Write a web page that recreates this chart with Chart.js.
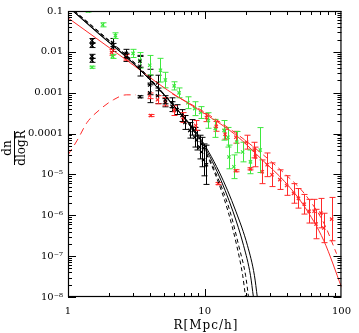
<!DOCTYPE html>
<html><head><meta charset="utf-8">
<script src="https://cdn.jsdelivr.net/npm/chart.js@4.4.0/dist/chart.umd.min.js"></script>
<style>html,body{margin:0;padding:0;background:#fff;}canvas{display:block;}</style>
</head><body>
<canvas id="c" width="359" height="333"></canvas>
<script>
// ---- axis ticks ----
const xTickValues = [1, 10, 100];
const xTickLabels = ['1', '10', '100'];
const yTickValues = [1e-8, 1e-7, 1e-6, 1e-5, 1e-4, 1e-3, 1e-2, 1e-1];
const yTickLabels = ['10⁻⁸', '10⁻⁷', '10⁻⁶', '10⁻⁵', '0.0001', '0.001', '0.01', '0.1'];
const xTitle = 'R[Mpc/h]';
const yTitleNum = 'dn';
const yTitleDen = 'dlogR';

// ---- black measurements ----
const blackX = [1.497,1.497,1.497,1.497,2.117,2.117,2.666,2.666,3.358,3.358,3.358,3.959,3.959,3.959,4.517,4.517,5.152,5.152,5.782,5.782,6.281,6.818,7.163,7.779,8.039,8.447,8.730,9.173,9.478,9.797,10.29];
const blackY = [0.0189,0.0143,0.00776,0.00621,0.0169,0.0128,0.00916,0.00734,0.00587,0.00445,0.000794,0.00242,0.00155,0.000993,0.00173,0.00084,0.000673,0.000569,0.000569,0.000456,0.000386,0.000276,0.000187,0.000120,0.000142,8.13e-5,6.89e-5,4.67e-5,3.53e-5,2.27e-5,1.72e-5];
const blackErrDex = [0.05,0.05,0.05,0.05,0.1,0.1,0.1,0.1,0.145,0.24,0.025,0.19,0.24,0.24,0.19,0.19,0.1,0.1,0.12,0.12,0.12,0.145,0.17,0.19,0.19,0.24,0.24,0.29,0.36,0.39,0.48];

// ---- green measurements ----
const greenX = [1.402,1.497,1.795,2.117,2.223,2.991,3.358,3.959,4.746,5.152,5.976,6.491,7.526,8.447,9.324,10.64,11.94,13.85,14.79,17.15,18.94,15.04,16.33,21.6,25.47];
const greenY = [0.1,0.00421,0.0459,0.00776,0.0249,0.00916,0.00621,0.0047,0.00356,0.00204,0.00147,0.000993,0.000569,0.000407,0.000327,0.000209,0.000134,0.000120,8.13e-5,6.16e-5,3.53e-5,2.68e-5,1.54e-5,2.03e-5,3.95e-5];
const greenErrDex = [0.025,0.025,0.05,0.05,0.07,0.1,0.19,0.24,0.29,0.19,0.1,0.12,0.145,0.17,0.145,0.19,0.22,0.24,0.24,0.26,0.24,0.29,0.29,0.29,0.55];

// ---- red measurements ----
const redX = [2.082,2.666,3.959,4.025,4.517,5.152,5.976,6.932,8.587,10.29,12.14,14.08,16.88,20.23,23.08,12.54,16.88,21.6,23.46,26.33,28.59,31.05,35.42,39.74,44.61,48.44,53.47,58.05,63.04,70.75,65.16,74.31,84.8];
const redY = [0.00969,0.00734,0.00084,0.000276,0.000673,0.000601,0.000365,0.000247,0.000158,0.000247,0.00015,9.62e-5,8.13e-5,6.16e-5,3.95e-5,5.97e-6,1.23e-5,1.37e-5,2.68e-5,1.16e-5,1.72e-5,9.84e-6,7.46e-6,5.35e-6,3.43e-6,2.6e-6,1.86e-6,1.26e-6,1.26e-6,1.13e-6,6.11e-7,4.9e-7,8.07e-7];
const redErrDex = [0.07,0.07,0.07,0.025,0.1,0.1,0.12,0.12,0.12,0.1,0.12,0.12,0.145,0.17,0.19,0.025,0.025,0.025,0.24,0.29,0.29,0.29,0.24,0.24,0.24,0.24,0.24,0.29,0.29,0.36,0.36,0.36,0.53];

// ---- black model curves (common y, four x tracks) ----
const blackModelY = [0.13,0.0294,0.0047,4.7e-4,8.9e-5,1.16e-5,1.26e-6,1.8e-7,3.4e-8,1.0e-8];
const blackDash1X = [1.02,1.72,3.20,5.98,8.70,11.74,14.79,17.15,18.94,19.89];
const blackDash2X = [1.01,1.70,3.18,5.98,8.75,11.94,15.29,17.73,19.89,20.90];
const blackSolid1X = [1.0,1.66,3.12,5.98,8.88,12.34,16.06,19.25,21.60,22.70];
const blackSolid2X = [0.99,1.64,3.10,5.98,9.02,12.75,16.88,20.56,23.08,24.24];

// ---- red model curves ----
const redSolidX = [1.0,2.755,5.325,9.96,16.88,26.33,38.46,53.47,74.31,100];
const redSolidY = [0.0678,0.00587,0.00117,3.1e-4,9.2e-5,2.27e-5,6.67e-6,1.66e-6,2.38e-7,1.75e-8];
const redDashX = [5.78,9.96,16.88,26.33,38.46,53.47,74.31,92.09];
const redDashY = [9.4e-4,3.35e-4,1.02e-4,3.16e-5,1.04e-5,3.43e-6,6.47e-7,1.15e-7];
const redHumpX = [1.0,1.169,1.379,1.708,2.151,2.666,3.143];
const redHumpY = [2.99e-5,6.89e-5,1.87e-4,3.86e-4,6.73e-4,8.87e-4,8.87e-4];

const BLACK = '#000000', GREEN = '#3ee83e', RED = '#ff2a2a';
const pts = (xs, ys) => xs.map((x, i) => ({x, y: ys[i]}));

function lineDS(xs, ys, color, dash) {
  return {type:'line', data: pts(xs, ys), borderColor: color, borderWidth: 1, borderDash: dash || [],
    pointRadius: 0, fill: false, cubicInterpolationMode: 'monotone', showLine: true};
}
function pointDS(xs, ys, errs, color) {
  return {type:'scatter', data: pts(xs, ys), errDex: errs, borderColor: color, backgroundColor: color,
    pointStyle: 'crossRot', pointRadius: 2.3, borderWidth: 1.2, showLine: false};
}

const errorBars = {
  id: 'errorBars',
  beforeDatasetsDraw(chart) {
    const {ctx, chartArea: a, scales: {x, y}} = chart;
    ctx.save();
    ctx.beginPath(); ctx.rect(a.left, a.top, a.right - a.left, a.bottom - a.top); ctx.clip();
    chart.data.datasets.forEach(ds => {
      if (!ds.errDex) return;
      ctx.strokeStyle = ds.borderColor; ctx.lineWidth = 1;
      ds.data.forEach((p, i) => {
        const e = Math.pow(10, ds.errDex[i]);
        const px = Math.round(x.getPixelForValue(p.x)) + 0.5;
        const yh = y.getPixelForValue(p.y * e), yl = y.getPixelForValue(p.y / e);
        ctx.beginPath();
        ctx.moveTo(px, yh); ctx.lineTo(px, yl);
        ctx.moveTo(px - 3, yh); ctx.lineTo(px + 3, yh);
        ctx.moveTo(px - 3, yl); ctx.lineTo(px + 3, yl);
        ctx.stroke();
      });
    });
    ctx.restore();
  }
};

const frame = {
  id: 'frame',
  afterDraw(chart) {
    const {ctx, chartArea: a, scales: {x, y}} = chart;
    ctx.save();
    ctx.strokeStyle = '#000'; ctx.lineWidth = 1.2;
    ctx.strokeRect(a.left + 0.5, a.top + 0.5, a.right - a.left - 1, a.bottom - a.top - 1);
    ctx.lineWidth = 1;
    ctx.beginPath();
    for (let d = 1; d < 100; d *= 10) {
      for (let k = 1; k <= 9; k++) {
        const v = d * k; if (v < 1) continue;
        const px = Math.round(x.getPixelForValue(v)) + 0.5;
        const len = k === 1 ? 8 : 4;
        ctx.moveTo(px, a.bottom); ctx.lineTo(px, a.bottom - len);
        ctx.moveTo(px, a.top); ctx.lineTo(px, a.top + len);
      }
    }
    for (let e = -8; e <= -1; e++) {
      for (let k = 1; k <= 9; k++) {
        const v = k * Math.pow(10, e); if (v > 0.1000001) continue;
        const py = Math.round(y.getPixelForValue(v)) + 0.5;
        const len = k === 1 ? 8 : 4;
        ctx.moveTo(a.left, py); ctx.lineTo(a.left + len, py);
        ctx.moveTo(a.right, py); ctx.lineTo(a.right - len, py);
      }
    }
    ctx.stroke();
    // titles
    ctx.fillStyle = '#000';
    ctx.font = '12px "DejaVu Serif"';
    ctx.textAlign = 'center'; ctx.textBaseline = 'alphabetic';
    try { ctx.letterSpacing = '1px'; } catch (e) {}
    ctx.fillText(xTitle, 206, 329);
    try { ctx.letterSpacing = '0px'; } catch (e) {}
    ctx.translate(14, 148);
    ctx.rotate(-Math.PI / 2);
    ctx.font = '12px "DejaVu Serif"';
    ctx.textBaseline = 'alphabetic';
    ctx.fillText(yTitleNum, 0, -3);
    ctx.textBaseline = 'top';
    ctx.fillText(yTitleDen, 0, 2);
    ctx.beginPath(); ctx.moveTo(-17, 0.5); ctx.lineTo(17, 0.5); ctx.stroke();
    ctx.restore();
  }
};

new Chart(document.getElementById('c'), {
  type: 'scatter',
  data: {
    datasets: [
      lineDS(blackSolid1X, blackModelY, BLACK),
      lineDS(blackSolid2X, blackModelY, BLACK),
      lineDS(blackDash1X, blackModelY, BLACK, [4, 3]),
      lineDS(blackDash2X, blackModelY, BLACK, [4, 3]),
      lineDS(redSolidX, redSolidY, RED),
      lineDS(redDashX, redDashY, RED, [6, 4]),
      lineDS(redHumpX, redHumpY, RED, [7, 5]),
      pointDS(blackX, blackY, blackErrDex, BLACK),
      pointDS(redX, redY, redErrDex, RED),
      pointDS(greenX, greenY, greenErrDex, GREEN)
    ]
  },
  options: {
    responsive: false, animation: false,
    layout: {padding: {top: 7, right: 11, left: 0, bottom: 0}},
    plugins: {legend: {display: false}, tooltip: {enabled: false}},
    scales: {
      x: {
        type: 'logarithmic', min: 1, max: 100,
        afterBuildTicks: s => { s.ticks = xTickValues.map(v => ({value: v})); },
        afterFit: s => { s.height = 36; },
        grid: {display: false, drawTicks: false}, border: {display: false},
        ticks: {callback: (v, i) => xTickLabels[i], autoSkip: false, maxRotation: 0, padding: 8,
          color: '#000', font: {family: 'DejaVu Serif', size: 10}}
      },
      y: {
        type: 'logarithmic', min: 1e-8, max: 0.1,
        afterBuildTicks: s => { s.ticks = yTickValues.map(v => ({value: v})); },
        afterFit: s => { s.width = 68; },
        grid: {display: false, drawTicks: false}, border: {display: false},
        ticks: {callback: (v, i) => yTickLabels[i], autoSkip: false, padding: 5,
          color: '#000', font: {family: 'DejaVu Serif', size: 10}}
      }
    }
  },
  plugins: [errorBars, frame]
});
</script>
</body></html>
